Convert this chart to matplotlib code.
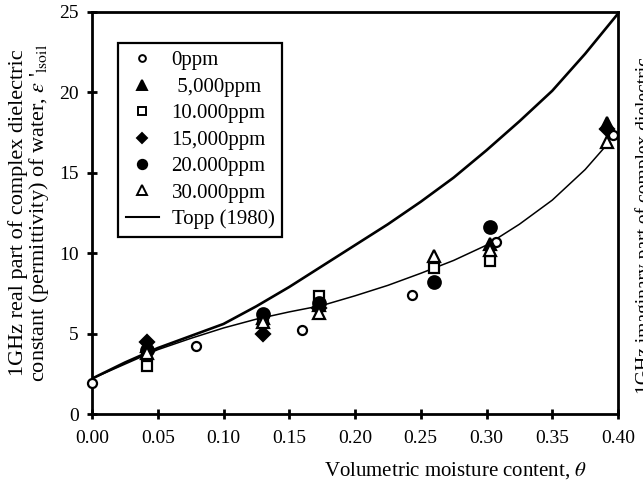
import matplotlib
matplotlib.use("Agg")
import matplotlib.pyplot as plt
from matplotlib.lines import Line2D

plt.rcParams["font.family"] = ["Liberation Serif", "DejaVu Serif"]
plt.rcParams["mathtext.fontset"] = "stix"

theta_0 = [0.0, 0.079, 0.160, 0.243, 0.307, 0.396]
eps_0 = [1.9, 4.2, 5.2, 7.4, 10.7, 17.35]

theta_5k = [0.042, 0.130, 0.173, 0.303, 0.392]
eps_5k = [4.2, 6.0, 6.8, 10.6, 18.1]

theta_10k = [0.042, 0.130, 0.173, 0.260, 0.303]
eps_10k = [3.0, 5.8, 7.35, 9.1, 9.5]

theta_15k = [0.042, 0.130, 0.173, 0.392]
eps_15k = [4.5, 5.0, 6.6, 17.7]

theta_20k = [0.042, 0.130, 0.173, 0.260, 0.303]
eps_20k = [4.0, 6.2, 6.9, 8.2, 11.6]

theta_30k = [0.042, 0.130, 0.173, 0.260, 0.303, 0.392]
eps_30k = [3.8, 5.7, 6.3, 9.8, 10.2, 16.9]

# Topp (1980) curve and fitted curve
theta_topp = [0.0, 0.025, 0.05, 0.075, 0.10, 0.125, 0.15, 0.175, 0.20,
              0.225, 0.25, 0.275, 0.30, 0.325, 0.35, 0.375, 0.40]
eps_topp = [2.2, 3.2, 4.1, 4.85, 5.6, 6.7, 7.9, 9.2, 10.5,
            11.8, 13.2, 14.7, 16.4, 18.2, 20.1, 22.4, 24.9]

theta_fit = [0.0, 0.025, 0.05, 0.075, 0.10, 0.125, 0.15, 0.175, 0.20,
             0.225, 0.25, 0.275, 0.30, 0.325, 0.35, 0.375, 0.39]
eps_fit = [2.2, 3.1, 4.0, 4.7, 5.35, 5.9, 6.35, 6.75, 7.35,
           8.0, 8.75, 9.55, 10.5, 11.8, 13.3, 15.2, 16.6]

xticks = [0.00, 0.05, 0.10, 0.15, 0.20, 0.25, 0.30, 0.35, 0.40]
yticks = [0, 5, 10, 15, 20, 25]

fig = plt.figure(figsize=(6.43, 4.86), dpi=100)
ax = fig.add_axes([92 / 643, 72 / 486, 526 / 643, 402 / 486])

ax.plot(theta_topp, eps_topp, color="black", lw=1.9, zorder=2)
ax.plot(theta_fit, eps_fit, color="black", lw=1.1, zorder=2)

series = [
    (theta_0, eps_0, "o", "white", 6.5, "0ppm"),
    (theta_5k, eps_5k, "^", "black", 9, " 5,000ppm"),
    (theta_10k, eps_10k, "s", "white", 7.5, "10.000ppm"),
    (theta_15k, eps_15k, "D", "black", 7, "15,000ppm"),
    (theta_20k, eps_20k, "o", "black", 9, "20.000ppm"),
    (theta_30k, eps_30k, "^", "white", 9, "30.000ppm"),
]

handles = []
for xs, ys, m, fc, ms, lab in series:
    ax.plot(xs, ys, ls="none", marker=m, ms=ms, mfc=fc, mec="black",
            mew=1.6, zorder=3, clip_on=False)
    handles.append(Line2D([], [], ls="none", marker=m, ms=ms * 0.75, mfc=fc,
                          mec="black", mew=1.4, label=lab))
handles.append(Line2D([], [], color="black", lw=1.5, label="Topp (1980)"))

leg = ax.legend(handles=handles, loc="upper left",
                bbox_to_anchor=(0.049, 0.923), fontsize=15,
                frameon=True, fancybox=False, framealpha=1,
                edgecolor="black", labelspacing=0.33, handlelength=1.6,
                handletextpad=0.6, borderpad=0.38, borderaxespad=0)
leg.get_frame().set_linewidth(1.6)

ax.set_xlim(0, 0.40)
ax.set_ylim(0, 25)
ax.set_xticks(xticks)
ax.set_xticklabels([f"{v:.2f}" for v in xticks])
ax.set_yticks(yticks)
ax.tick_params(axis="both", labelsize=14, width=2, length=7,
               direction="inout", colors="black")
ax.tick_params(axis="x", pad=8)
ax.tick_params(axis="y", pad=6)
for s in ax.spines.values():
    s.set_linewidth(2)

ax.set_xlabel(r"Volumetric moisture content, $\theta$", fontsize=15, ha="right")
ax.xaxis.set_label_coords(0.941, -0.115)
ax.set_ylabel("1GHz real part of complex dielectric\n"
              r"constant (permittivity) of water, $\varepsilon$ '$_{\rm lsoil}$",
              fontsize=16, linespacing=0.95)
ax.yaxis.set_label_coords(-0.078, 0.5)

# right panel's axis title, cut off by the figure edge
fig.text(644 / 643, 92 / 486, "1GHz imaginary part of complex dielectric",
         rotation=90, fontsize=14, ha="center", va="bottom")

fig.savefig("out.png", dpi=100)
